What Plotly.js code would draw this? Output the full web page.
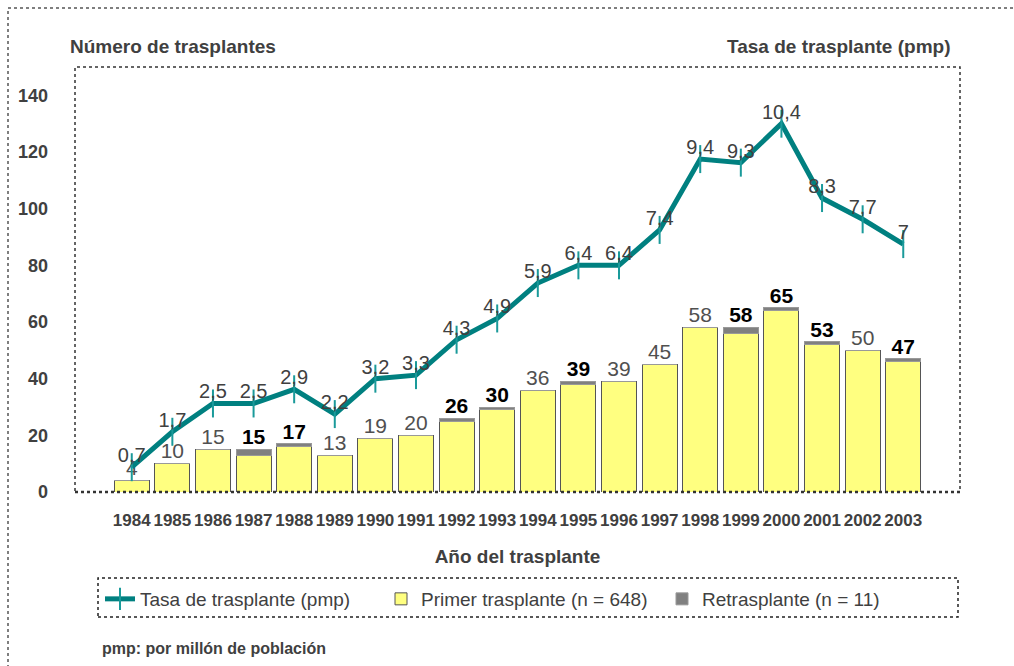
<!DOCTYPE html>
<html><head><meta charset="utf-8">
<script src="https://cdn.plot.ly/plotly-3.0.1.min.js"></script>
<style>body{margin:0;background:#fff}#c{width:1014px;height:666px}</style>
</head><body><div id="c"></div>
<script>
const years = ['1984','1985','1986','1987','1988','1989','1990','1991','1992','1993','1994','1995','1996','1997','1998','1999','2000','2001','2002','2003'];
const primer = [4,10,15,13,16,13,19,20,25,29,36,38,39,45,58,56,64,52,50,46];
const retras = [0,0,0,2,1,0,0,0,1,1,0,1,0,0,0,2,1,1,0,1];
const tasa = [0.7,1.7,2.5,2.5,2.9,2.2,3.2,3.3,4.3,4.9,5.9,6.4,6.4,7.4,9.4,9.3,10.4,8.3,7.7,7];
const leftTicks = [0,20,40,60,80,100,120,140];
const rightTicks = [0,2,4,6,8,10,12];

const FONT = '"Liberation Sans Narrow","Liberation Sans",Arial,sans-serif';
const TXT = '#404040';
const totals = primer.map((p,i)=>p+retras[i]);
const tasaTxt = tasa.map(v=>String(v).replace('.',','));

const traces = [
  {type:'bar', x:years, y:primer, yaxis:'y2', name:'Primer trasplante (n = 648)',
   marker:{color:'#ffff80', line:{color:'#555', width:1}}, hoverinfo:'skip', width:0.86},
  {type:'bar', x:years, y:retras, yaxis:'y2', name:'Retrasplante (n = 11)',
   marker:{color:'#808080', line:{color:'#999', width:1}}, hoverinfo:'skip', width:0.86},
  {type:'scatter', mode:'text', x:years, y:totals, yaxis:'y2', showlegend:false,
   text: totals.map(String), textposition:'top center', marker:{size:10},
   textfont:{family:FONT, size:21,
     color: retras.map(r=>r>0?'#000':'#505050'),
     weight: retras.map(r=>r>0?700:400)}, hoverinfo:'skip'},
  {type:'scatter', mode:'lines+markers', x:years, y:tasa, yaxis:'y3', name:'Tasa de trasplante (pmp)',
   line:{color:'#008080', width:5},
   marker:{symbol:'line-ns', size:20, color:'#1a9a9a', line:{color:'#1a9a9a', width:2}}, hoverinfo:'skip'},
  {type:'scatter', mode:'text', x:years, y:tasa, yaxis:'y3', showlegend:false,
   text:tasaTxt, textposition:'top center', marker:{size:22},
   textfont:{family:FONT, size:20, color:TXT}, hoverinfo:'skip'}
];

const layout = {
  width:1014, height:666,
  margin:{l:75, r:54, t:67, b:174},
  paper_bgcolor:'#fff', plot_bgcolor:'rgba(0,0,0,0)',
  font:{family:FONT, color:TXT, size:18},
  barmode:'stack', bargap:0.14,
  showlegend:true,
  xaxis:{type:'category', showgrid:false, ticks:'', showline:false, tickangle:0,
    tickfont:{family:FONT, size:17, color:TXT, weight:700}, ticklabelstandoff:16,
    title:{text:'Año del trasplante', font:{family:FONT, size:19, color:TXT, weight:700}, standoff:20}},
  yaxis:{side:'right', range:[0,12], tickvals:rightTicks, showgrid:true, gridcolor:'#111', griddash:'dot', gridwidth:1.2,
    ticks:'outside', ticklen:5, tickcolor:'#333', zeroline:false, showline:false,
    tickfont:{family:FONT, size:18, color:TXT, weight:700}, ticklabelstandoff:10},
  yaxis2:{overlaying:'y', side:'left', range:[0,150], tickvals:leftTicks, showgrid:false, zeroline:false,
    ticks:'', showline:false, tickfont:{family:FONT, size:18, color:TXT, weight:700}, ticklabelstandoff:26},
  yaxis3:{overlaying:'y', range:[0,12], visible:false},
  legend:{orientation:'h', x:(100-75)/885, y:(492-580)/425, xanchor:'left', yanchor:'top', borderwidth:0, bgcolor:'rgba(0,0,0,0)',
    font:{family:FONT, size:19, color:TXT}, traceorder:'normal', entrywidth:236, entrywidthmode:'pixels'},
  shapes:[
    {type:'rect', xref:'paper', yref:'paper', x0:0, x1:1, y0:0, y1:1, line:{color:'#333', width:1.5, dash:'dot'}},
    {type:'line', xref:'paper', yref:'paper', x0:0, x1:1, y0:0, y1:0, line:{color:'#333', width:2.5, dash:'dot'}},
    {type:'rect', xref:'paper', yref:'paper', x0:(98-75)/885, x1:(958-75)/885, y0:(492-617)/425, y1:(492-578)/425,
     line:{color:'#222', width:1.5, dash:'dot'}},
    {type:'rect', xref:'paper', yref:'paper', x0:(8-75)/885, x1:1.2, y0:-0.6, y1:(492-8)/425,
     line:{color:'#555', width:1.5, dash:'dot'}}
  ],
  annotations:[
    {xref:'paper', yref:'paper', x:(68-75)/885, y:(492-47)/425, xanchor:'left', yanchor:'middle', showarrow:false,
     text:'Número de trasplantes', font:{family:FONT, size:19, color:TXT, weight:700}},
    {xref:'paper', yref:'paper', x:(952-75)/885, y:(492-47)/425, xanchor:'right', yanchor:'middle', showarrow:false,
     text:'Tasa de trasplante (pmp)', font:{family:FONT, size:19, color:TXT, weight:700}},
    {xref:'paper', yref:'paper', x:(100-75)/885, y:(492-648)/425, xanchor:'left', yanchor:'middle', showarrow:false,
     text:'pmp: por millón de población', font:{family:FONT, size:16, color:TXT, weight:700}}
  ]
};
traces[3].legendrank = 1; traces[0].legendrank = 2; traces[1].legendrank = 3;
Plotly.newPlot('c', traces, layout, {displayModeBar:false, staticPlot:true});
</script></body></html>
